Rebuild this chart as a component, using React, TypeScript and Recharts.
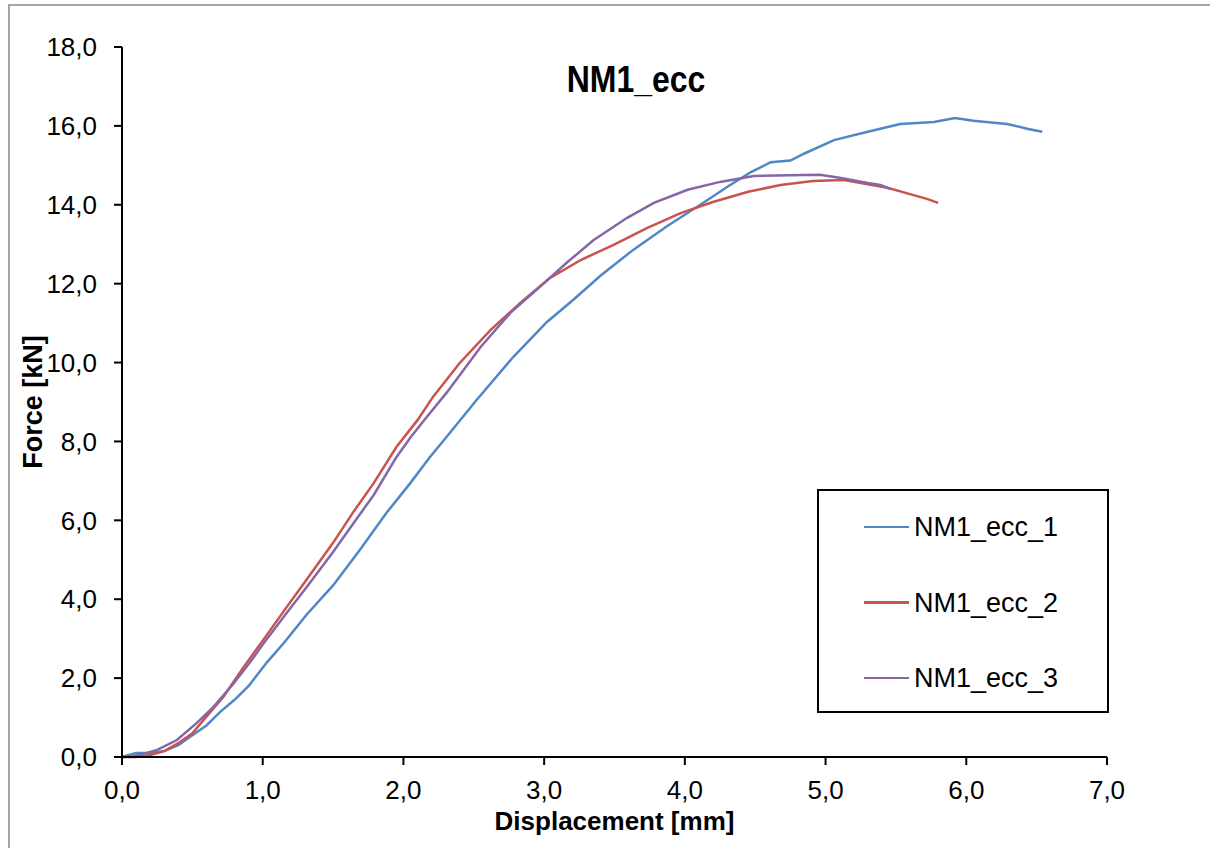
import React from 'react';
import { LineChart, Line, XAxis, YAxis, Legend } from 'recharts';

// displacement [mm] / force [kN]
const dispEcc1 = [0, 0.1, 0.2, 0.3, 0.4, 0.5, 0.6, 0.7, 0.8, 0.9, 1.03, 1.15, 1.31, 1.5, 1.69, 1.88, 2.05, 2.19, 2.28, 2.52, 2.78, 3.02, 3.21, 3.4, 3.63, 3.87, 4.11, 4.3, 4.47, 4.61, 4.75, 4.85, 5.06, 5.3, 5.53, 5.77, 5.92, 6.05, 6.29, 6.44, 6.54];
const forceEcc1 = [0, 0.1, 0.1, 0.15, 0.3, 0.55, 0.8, 1.15, 1.45, 1.8, 2.4, 2.89, 3.6, 4.35, 5.25, 6.19, 6.95, 7.61, 8.0, 9.05, 10.14, 11.03, 11.6, 12.2, 12.85, 13.45, 14.0, 14.45, 14.83, 15.08, 15.12, 15.3, 15.64, 15.85, 16.05, 16.1, 16.2, 16.13, 16.05, 15.92, 15.85];

const dispEcc2 = [0, 0.1, 0.2, 0.3, 0.4, 0.5, 0.58, 0.72, 0.86, 1.0, 1.17, 1.31, 1.5, 1.64, 1.79, 1.95, 2.1, 2.21, 2.4, 2.62, 2.83, 3.04, 3.26, 3.49, 3.73, 3.97, 4.2, 4.45, 4.68, 4.91, 5.13, 5.25, 5.44, 5.6, 5.72, 5.8];
const forceEcc2 = [0, 0, 0.05, 0.15, 0.35, 0.6, 0.94, 1.52, 2.26, 2.95, 3.8, 4.49, 5.43, 6.19, 6.95, 7.86, 8.54, 9.13, 9.99, 10.83, 11.51, 12.14, 12.6, 12.98, 13.41, 13.79, 14.07, 14.33, 14.5, 14.6, 14.63, 14.55, 14.43, 14.27, 14.15, 14.05];

const dispEcc3 = [0, 0.08, 0.15, 0.25, 0.39, 0.53, 0.65, 0.79, 0.91, 1.0, 1.17, 1.31, 1.5, 1.64, 1.79, 1.95, 2.05, 2.15, 2.31, 2.55, 2.76, 2.97, 3.16, 3.35, 3.59, 3.78, 4.02, 4.25, 4.49, 4.96, 5.11, 5.3, 5.39, 5.46];
const forceEcc3 = [0, 0.02, 0.08, 0.18, 0.43, 0.86, 1.27, 1.85, 2.4, 2.85, 3.65, 4.3, 5.2, 5.9, 6.65, 7.6, 8.1, 8.55, 9.25, 10.4, 11.26, 11.92, 12.53, 13.1, 13.67, 14.05, 14.38, 14.58, 14.73, 14.76, 14.68, 14.55, 14.5, 14.4];

const seriesNames = ['NM1_ecc_1', 'NM1_ecc_2', 'NM1_ecc_3'];
const xTicks = [0, 1, 2, 3, 4, 5, 6, 7];
const yTicks = [0, 2, 4, 6, 8, 10, 12, 14, 16, 18];

const toPoints = (xs: number[], ys: number[]) => xs.map((x, i) => ({ x, y: ys[i] }));

const series = [
  { name: seriesNames[0], color: '#4f87c7', data: toPoints(dispEcc1, forceEcc1) },
  { name: seriesNames[1], color: '#c9534d', data: toPoints(dispEcc2, forceEcc2) },
  { name: seriesNames[2], color: '#8567a8', data: toPoints(dispEcc3, forceEcc3) },
];

const fmt = (v: number) => v.toFixed(1).replace('.', ',');

const LegendBox = (props: any) => {
  const payload = props.payload || [];
  return (
    <div style={{ position: 'relative', width: '100%', height: '100%' }}>
      {payload.map((entry: any, i: number) => (
        <div
          key={entry.value}
          style={{ position: 'absolute', left: 45, top: 16 + i * 75.5, height: 40, display: 'flex', alignItems: 'center' }}
        >
          <div style={{ width: 45, height: 2.5, background: entry.color, marginRight: 5 }} />
          <span style={{ fontSize: 27, color: '#000', lineHeight: '40px' }}>{entry.value}</span>
        </div>
      ))}
    </div>
  );
};

export default function App() {
  return (
    <div
      style={{
        position: 'absolute',
        left: 0,
        top: 0,
        width: 1210,
        height: 848,
        overflow: 'hidden',
        background: '#fff',
        fontFamily: "'Liberation Sans', Arial, sans-serif",
      }}
    >
      <div
        style={{
          position: 'absolute',
          left: 8,
          top: 4,
          width: 1300,
          height: 900,
          borderLeft: '2px solid #a6a6a6',
          borderTop: '2px solid #a6a6a6',
        }}
      />
      <div
        style={{
          position: 'absolute',
          left: 436,
          top: 65,
          width: 400,
          textAlign: 'center',
          fontWeight: 'bold',
          fontSize: 32,
          lineHeight: '32px',
          color: '#000',
          transform: 'scaleY(1.17)',
          transformOrigin: '50% 27px',
        }}
      >
        NM1_ecc
      </div>
      <LineChart width={1210} height={848} margin={{ top: 47, right: 103, bottom: 11, left: 12 }}>
        <XAxis
          type="number"
          dataKey="x"
          domain={[0, 7]}
          ticks={xTicks}
          tickFormatter={fmt}
          height={80}
          axisLine={{ stroke: '#000', strokeWidth: 2 }}
          tickLine={{ stroke: '#000', strokeWidth: 2 }}
          tickSize={8}
          tickMargin={16}
          tick={{ fill: '#000', fontSize: 26 }}
          allowDuplicatedCategory={false}
          label={{
            value: 'Displacement [mm]',
            position: 'insideBottom',
            offset: 7,
            style: { fontSize: 26, fontWeight: 'bold', fill: '#000' },
          }}
        />
        <YAxis
          type="number"
          dataKey="y"
          domain={[0, 18]}
          ticks={yTicks}
          tickFormatter={fmt}
          width={110}
          axisLine={{ stroke: '#000', strokeWidth: 2 }}
          tickLine={{ stroke: '#000', strokeWidth: 2 }}
          tickSize={8}
          tickMargin={17}
          tick={{ fill: '#000', fontSize: 26 }}
          label={{
            value: 'Force [kN]',
            angle: -90,
            position: 'insideLeft',
            offset: 20,
            style: { textAnchor: 'middle', fontSize: 27, fontWeight: 'bold', fill: '#000' },
          }}
        />
        <Legend
          layout="vertical"
          align="center"
          verticalAlign="middle"
          content={LegendBox}
          wrapperStyle={{
            left: 817,
            top: 489,
            width: 292,
            height: 224,
            border: '2px solid #000',
            boxSizing: 'border-box',
            background: '#fff',
          }}
        />
        {series.map((s) => (
          <Line
            key={s.name}
            data={s.data}
            dataKey="y"
            name={s.name}
            type="linear"
            stroke={s.color}
            strokeWidth={2.5}
            dot={false}
            activeDot={false}
            isAnimationActive={false}
          />
        ))}
      </LineChart>
    </div>
  );
}
